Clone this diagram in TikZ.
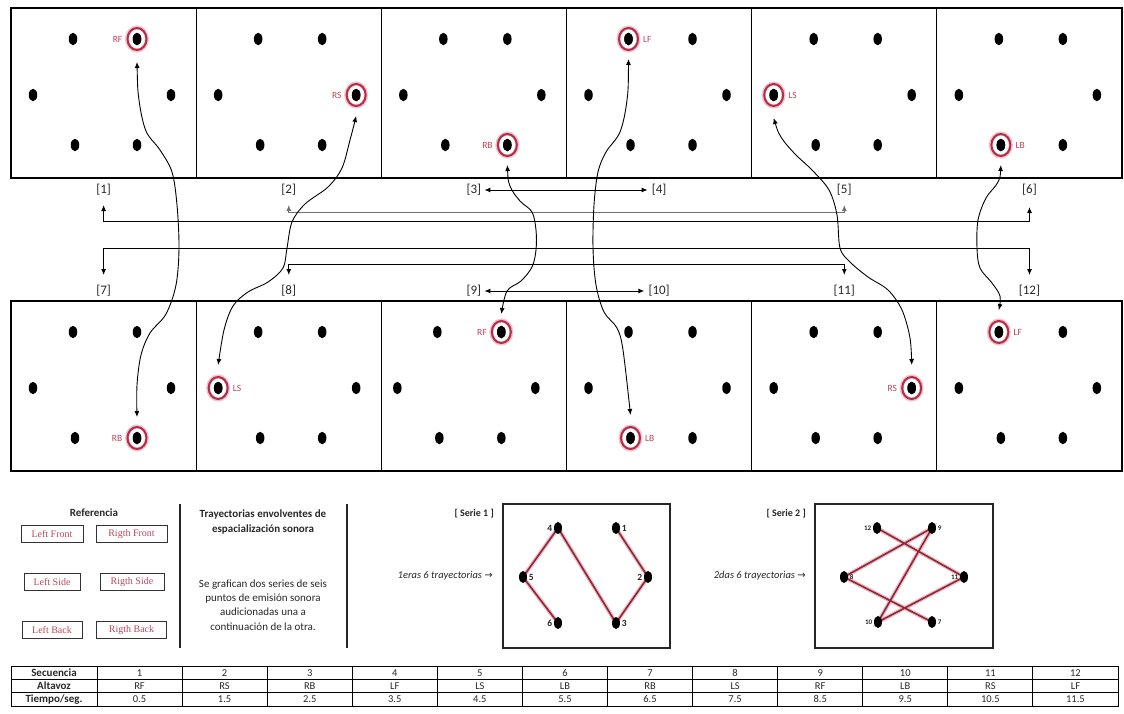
\documentclass[tikz,border=0pt]{standalone}
\usepackage{fontspec}
\setmainfont{Carlito}
\newfontfamily\serfont{Liberation Serif}
\newfontfamily\symfont{DejaVu Sans}
\usetikzlibrary{arrows.meta,calc,shapes.geometric}

\definecolor{ringred}{RGB}{180,45,70}
\definecolor{ringhalo}{RGB}{240,195,205}
\definecolor{lblred}{RGB}{190,70,90}
\definecolor{serline}{RGB}{140,40,55}
\definecolor{serglow}{RGB}{240,185,195}
\definecolor{txtgrey}{RGB}{40,40,40}

\tikzset{
  panel/.style={draw=black, line width=1.2pt},
  spk/.style={ellipse, fill=black, minimum width=8.5pt, minimum height=12.5pt, inner sep=0pt},
  sdot/.style={ellipse, fill=black, minimum width=8pt, minimum height=12pt, inner sep=0pt},
  ringh/.style={ellipse, draw=ringhalo, line width=4pt, minimum width=20pt, minimum height=23pt, inner sep=0pt},
  ring/.style={ellipse, draw=ringred, line width=2pt, minimum width=19pt, minimum height=22pt, inner sep=0pt},
  spklbl/.style={text=lblred, font=\fontsize{9.5}{9.5}\selectfont, inner xsep=4pt, inner ysep=0pt},
  idx/.style={font=\fontsize{13}{13}\selectfont, text=txtgrey, inner sep=1pt},
  tip/.style={{Latex[length=6pt,width=5pt]}-{Latex[length=6pt,width=5pt]}},
  conn/.style={tip, line width=1pt, black},
  connl/.style={tip, line width=0.8pt, black!55},
  curv/.style={tip, line width=0.9pt, black},
  refbox/.style={draw=black!80, line width=0.8pt, text=lblred, font=\serfont\fontsize{10}{10}\selectfont, inner xsep=3pt, inner ysep=2pt, minimum height=17pt},
  sep/.style={draw=black!85, line width=1.3pt},
  sbox/.style={draw=black!85, line width=1.3pt},
  sglow/.style={serglow, line width=4pt, line cap=round},
  sline/.style={serline, line width=1.6pt, line cap=round},
  snum/.style={font=\bfseries\fontsize{9.5}{9.5}\selectfont, text=txtgrey, inner sep=1.5pt},
  snumb/.style={font=\bfseries\fontsize{7}{7}\selectfont, text=txtgrey, inner sep=1.5pt},
  tbl/.style={draw=black, line width=0.9pt},
  tblh/.style={font=\bfseries\fontsize{11}{11}\selectfont, text=txtgrey, inner sep=0pt},
  tblc/.style={font=\fontsize{10.5}{10.5}\selectfont, text=txtgrey, inner sep=0pt},
  body/.style={text=txtgrey, font=\fontsize{11}{14}\selectfont, align=center, inner sep=0pt},
}

\begin{document}
\begin{tikzpicture}[x=1pt,y=-1pt]
\useasboundingbox (0,0) rectangle (1124,713);
\fill[white] (0,0) rectangle (1124,713);

% ---------------- panels with speakers
\foreach \n in {1,...,12}{
  \pgfmathsetmacro{\xo}{11+mod(\n-1,6)*185.17}
  \pgfmathsetmacro{\yo}{\n<7 ? 8 : 301}
  \pgfmathsetmacro{\sh}{\n==9 ? -6 : 0}
  \draw[panel] (\xo,\yo) rectangle ++(185.17,170);
  \node[spk] (p\n-TL) at ({\xo+62+\sh},{\yo+31}) {};
  \node[spk] (p\n-TR) at ({\xo+126+\sh},{\yo+31}) {};
  \node[spk] (p\n-ML) at ({\xo+22+\sh},{\yo+87}) {};
  \node[spk] (p\n-MR) at ({\xo+160+\sh},{\yo+87}) {};
  \node[spk] (p\n-BL) at ({\xo+64+\sh},{\yo+137}) {};
  \node[spk] (p\n-BR) at ({\xo+126+\sh},{\yo+137}) {};
}

% highlighted speakers
\foreach \n/\pos/\lab/\sd/\an in {1/TR/RF/west/east, 2/MR/RS/west/east, 3/BR/RB/west/east,
   4/TL/LF/east/west, 5/ML/LS/east/west, 6/BL/LB/east/west,
   7/BR/RB/west/east, 8/ML/LS/east/west, 9/TR/RF/west/east,
   10/BL/LB/east/west, 11/MR/RS/west/east, 12/TL/LF/east/west}{
  \node[ringh] (h\n) at (p\n-\pos) {};
  \node[ring] (r\n) at (p\n-\pos) {};
  \node[spk] at (p\n-\pos) {};
  \node[spklbl, anchor=\an] (t\n) at (r\n.\sd) {\lab};
}

% ---------------- index labels
\foreach \k in {1,...,6}{
  \pgfmathsetmacro{\cx}{11+(\k-0.5)*185.17}
  \node[idx] (l\k) at (\cx,190) {[\k]};
}
\foreach \k in {7,...,12}{
  \pgfmathsetmacro{\cx}{11+(\k-6.5)*185.17}
  \node[idx] (l\k) at (\cx,291) {[\k]};
}

% ---------------- straight connectors
\coordinate (u1) at (103.6,205);  \coordinate (k1) at (103.6,221);
\coordinate (u6) at (1029.5,207); \coordinate (k6) at (1029.5,221);
\draw[conn] (u1) -- (k1) -- (k6) -- (u6);

\coordinate (u2) at (288.8,205);  \coordinate (k2) at (288.8,212);
\coordinate (u5) at (844.3,205);  \coordinate (k5) at (844.3,212);
\draw[connl] (u2) -- (k2) -- (k5) -- (u5);

\coordinate (u7) at (103.6,275);  \coordinate (k7) at (103.6,248);
\coordinate (u12) at (1029.5,275); \coordinate (k12) at (1029.5,248);
\draw[conn] (u7) -- (k7) -- (k12) -- (u12);

\coordinate (u8) at (288.8,275);  \coordinate (k8) at (288.8,264);
\coordinate (u11) at (844.3,275); \coordinate (k11) at (844.3,264);
\draw[conn] (u8) -- (k8) -- (k11) -- (u11);

\draw[conn] ([xshift=2pt]l3.east) -- ([xshift=-3pt]l4.west);
\draw[conn] ([xshift=2pt]l9.east) -- ([xshift=-3pt]l10.west);

% ---------------- curved connectors
\coordinate (A1) at ($(p1-TR)+(0,23)$);  \coordinate (A2) at ($(p7-BR)+(0,-21)$);
\coordinate (B1) at ($(p2-MR)+(0,21)$);  \coordinate (B2) at ($(p8-ML)+(0,-23)$);
\coordinate (C1) at ($(p3-BR)+(0,20)$);  \coordinate (C2) at ($(p9-TR)+(0,-18)$);
\coordinate (D1) at ($(p4-TL)+(0,20)$);  \coordinate (D2) at ($(p10-BL)+(0,-23)$);
\coordinate (E1) at ($(p5-ML)+(0,23)$);  \coordinate (E2) at ($(p11-MR)+(0,-23)$);
\coordinate (F1) at ($(p6-BL)+(0,20)$);  \coordinate (F2) at ($(p12-TL)+(0,-22)$);

\draw[curv] plot[smooth, tension=0.55] coordinates {(A1) (139,100) (146,131) (160,150) (172,172) (177,205) (179,248) (176,285) (166,314) (150,333) (141,355) (137,385) (A2)};
\draw[curv] plot[smooth, tension=0.55] coordinates {(B1) (350,140) (342,168) (328,187) (305,204) (292,222) (287,248) (283,268) (268,282) (248,292) (233,306) (224,330) (B2)};
\draw[curv] plot[smooth, tension=0.55] coordinates {(C1) (510,186) (520,201) (532,212) (536,230) (536,250) (532,267) (521,281) (507,291) (C2)};
\draw[curv] plot[smooth, tension=0.55] coordinates {(D1) (627,100) (620,132) (606,152) (598,172) (594,205) (593,248) (596,285) (604,312) (617,328) (623,350) (D2)};
\draw[curv] plot[smooth, tension=0.55] coordinates {(E1) (781,137) (795,154) (812,170) (829,190) (837,215) (840,248) (850,262) (868,277) (888,290) (902,310) (910,338) (E2)};
\draw[curv] plot[smooth, tension=0.55] coordinates {(F1) (998,182) (986,198) (978,220) (977,248) (980,268) (992,283) (1000,296) (F2)};

% ---------------- legend
\node[body, font=\bfseries\fontsize{11}{11}\selectfont] (ref) at (94,513) {Referencia};
\node[refbox, minimum width=62pt] (lf) at (52,534) {Left Front};
\node[refbox, minimum width=71pt] (rf) at (131.5,534) {Rigth Front};
\node[refbox, minimum width=56pt] (ls) at (52,582) {Left Side};
\node[refbox, minimum width=64pt] (rs) at (132,582) {Rigth Side};
\node[refbox, minimum width=60pt] (lb) at (52,630) {Left Back};
\node[refbox, minimum width=70pt] (rb) at (131.5,630) {Rigth Back};

\coordinate (s1t) at (180,504); \coordinate (s1b) at (180,648);
\coordinate (s2t) at (347,504); \coordinate (s2b) at (347,648);
\draw[sep] (s1t) -- (s1b);
\draw[sep] (s2t) -- (s2b);

\node[body, font=\bfseries\fontsize{11}{15.5}\selectfont] (ttl) at (263,522) {Trayectorias envolventes de\\espacialización sonora};
\node[body, font=\fontsize{11}{14.3}\selectfont] (para) at (263,605) {Se grafican dos series de seis\\puntos de emisión sonora\\audicionadas una a\\continuación de la otra.};

% ---------------- Serie 1
\node[body, font=\bfseries\fontsize{10}{10}\selectfont, anchor=east] (ser1) at (494,514) {[ Serie 1 ]};
\node[body, font=\itshape\fontsize{10.5}{10.5}\selectfont, anchor=east] (tr1) at (493,576) {1eras 6 trayectorias {\symfont\fontsize{10}{10}\selectfont →}};
\draw[sbox] (503,504) rectangle (670,648);
\coordinate (q1) at (616,528); \coordinate (q2) at (648,577); \coordinate (q3) at (616,623);
\coordinate (q4) at (558,528); \coordinate (q5) at (523,577); \coordinate (q6) at (558,623);
\draw[sglow] (q1) -- (q2) -- (q3) -- (q4) -- (q5) -- (q6);
\draw[sline] (q1) -- (q2) -- (q3) -- (q4) -- (q5) -- (q6);
\foreach \k in {1,...,6} \node[sdot] (S1-\k) at (q\k) {};
\node[snum, anchor=west] (n1) at (S1-1.east) {1};
\node[snum, anchor=east] (n2) at (S1-2.west) {2};
\node[snum, anchor=west] (n3) at (S1-3.east) {3};
\node[snum, anchor=east] (n4) at (S1-4.west) {4};
\node[snum, anchor=west] (n5) at (S1-5.east) {5};
\node[snum, anchor=east] (n6) at (S1-6.west) {6};

% ---------------- Serie 2
\node[body, font=\bfseries\fontsize{10}{10}\selectfont, anchor=east] (ser2) at (806,514) {[ Serie 2 ]};
\node[body, font=\itshape\fontsize{10.5}{10.5}\selectfont, anchor=east] (tr2) at (806,576) {2das 6 trayectorias {\symfont\fontsize{10}{10}\selectfont →}};
\draw[sbox] (815,504) rectangle (993,648);
\coordinate (w12) at (877,528); \coordinate (w9) at (932,528); \coordinate (w8) at (844,577);
\coordinate (w11) at (964,577); \coordinate (w10) at (878,622); \coordinate (w7) at (932,622);
\draw[sglow] (w7) -- (w8) -- (w9) -- (w10) -- (w11) -- (w12);
\draw[sline] (w7) -- (w8) -- (w9) -- (w10) -- (w11) -- (w12);
\foreach \k in {7,...,12} \node[sdot] (S2-\k) at (w\k) {};
\node[snumb, anchor=west] (n7) at (S2-7.east) {7};
\node[snumb, anchor=west] (n8) at (S2-8.east) {8};
\node[snumb, anchor=west] (n9) at (S2-9.east) {9};
\node[snumb, anchor=east] (n10) at (S2-10.west) {10};
\node[snumb, anchor=east] (n11) at (S2-11.west) {11};
\node[snumb, anchor=east] (n12) at (S2-12.west) {12};

% ---------------- table
\draw[tbl] (11,666) rectangle (1118,706);
\draw[tbl] (11,679.3) -- (1118,679.3);
\draw[tbl] (11,692.6) -- (1118,692.6);
\foreach \k in {0,...,11} \draw[tbl] ({97+\k*85.083},666) -- ++(0,40);
\node[tblh] (h1) at (54,672.7) {Secuencia};
\node[tblh] (h2) at (54,686) {Altavoz};
\node[tblh] (h3) at (54,699.3) {Tiempo/seg.};
\foreach \k in {1,...,12}{
  \node[tblc] (sq\k) at ({97+(\k-0.5)*85.083},672.7) {\k};
}
\foreach \v [count=\k] in {RF,RS,RB,LF,LS,LB,RB,LS,RF,LB,RS,LF}{
  \node[tblc] (al\k) at ({97+(\k-0.5)*85.083},686) {\v};
}
\foreach \v [count=\k] in {0.5,1.5,2.5,3.5,4.5,5.5,6.5,7.5,8.5,9.5,10.5,11.5}{
  \node[tblc] (ti\k) at ({97+(\k-0.5)*85.083},699.3) {\v};
}
\end{tikzpicture}
\end{document}
